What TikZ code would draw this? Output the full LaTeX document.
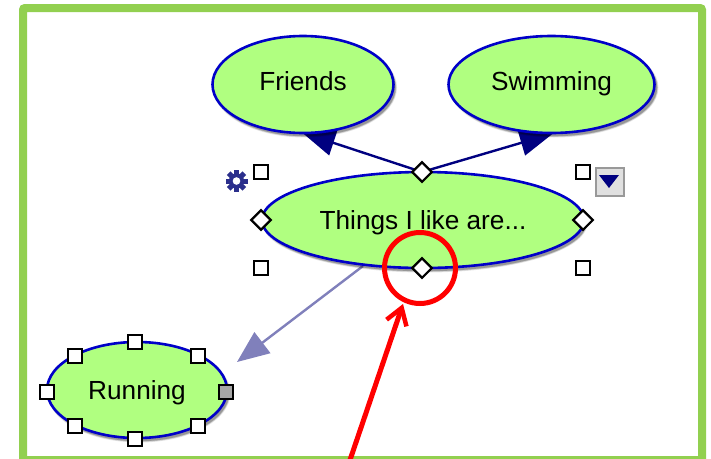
\documentclass[tikz,border=0pt]{standalone}
\usepackage{fontspec}
\setmainfont{Liberation Sans}
\usetikzlibrary{arrows.meta,shapes.geometric}
\definecolor{framegreen}{HTML}{92D050}
\definecolor{nodegreen}{HTML}{B0FF80}
\definecolor{nodeblue}{HTML}{0000C8}
\definecolor{linknavy}{HTML}{000080}
\definecolor{linkpale}{HTML}{8080BB}
\definecolor{gearblue}{HTML}{2B2F8C}
\tikzset{
  x=1pt,y=-1pt,
  concept/.style={ellipse,draw=nodeblue,fill=nodegreen,line width=2.6pt,inner sep=0pt,
    font=\fontsize{26.2}{26.2}\selectfont,text=black,text height=18pt,text depth=0pt},
  handle/.style={rectangle,draw=black,fill=white,line width=2.2pt,minimum size=13.5pt,inner sep=0pt},
  diamondhandle/.style={diamond,draw=black,fill=white,line width=2.2pt,minimum size=20.5pt,inner sep=0pt},
  darklink/.style={draw=linknavy,line width=2.4pt,-{Triangle[length=33pt,width=26pt,fill=linknavy]}},
  palelink/.style={draw=linkpale,line width=2.4pt,-{Triangle[length=32pt,width=26pt,fill=linkpale]}},
  redmark/.style={draw=red,line width=5pt},
}
\newcommand{\softshadow}[4]{%
  \foreach \g/\o in {1.5/0.10,0.8/0.15,0.2/0.22}{%
    \fill[black,opacity=\o] (#1+2.5,#2+3) ellipse [x radius=#3+\g,y radius=#4+\g];}%
}
\begin{document}
\begin{tikzpicture}
\useasboundingbox (0,0) rectangle (711,458);
\fill[white] (0,0) rectangle (711,458);
\draw[framegreen,line width=8pt,rounded corners=2pt] (23,8) rectangle (702,460);

% links go under the concept shapes
\coordinate (ftip) at (302,132.5);
\coordinate (stip) at (553,133.5);
\coordinate (rstart) at (363,266);
\coordinate (rtip) at (237,362);
\coordinate (tt) at (422,172);
\draw[darklink] (tt) -- (ftip);
\draw[darklink] (tt) -- (stip);
\draw[palelink] (rstart) -- (rtip);

\softshadow{302.5}{84.5}{90.5}{48.5}
\softshadow{551.5}{84.5}{103}{48.5}
\softshadow{422.5}{220}{161}{48}
\softshadow{136.5}{390}{90}{48}
\node[concept,text depth=7pt,minimum width=181pt,minimum height=97pt] (friends) at (303,84.5) {Friends};
\node[concept,text depth=7pt,minimum width=206pt,minimum height=97pt] (swimming) at (551.5,84.5) {Swimming};
\node[concept,text depth=0pt,minimum width=322pt,minimum height=96pt] (things) at (423,220) {Things I like are...};
\node[concept,minimum width=180pt,minimum height=96pt] (running) at (137,390) {Running};

% handles of the selected concept
\node[handle] (h1) at (261,172) {};
\node[handle] (h2) at (583,172) {};
\node[handle] (h3) at (261,268) {};
\node[handle] (h4) at (583,268) {};
\node[diamondhandle] (d1) at (tt) {};
\node[diamondhandle] (d2) at (422,268) {};
\node[diamondhandle] (d3) at (261,220) {};
\node[diamondhandle] (d4) at (583,220) {};

% handles of Running
\node[handle] (r1) at (75,356) {};
\node[handle] (r2) at (135,342) {};
\node[handle] (r3) at (198,356) {};
\node[handle] (r4) at (47,392) {};
\node[handle,fill=black!35] (r5) at (226,392) {};
\node[handle] (r6) at (75,426) {};
\node[handle] (r7) at (135,439) {};
\node[handle] (r8) at (198,426) {};

% gear
\foreach \a in {0,90,180,270}
  \fill[gearblue,rotate around={\a:(236.5,181)}] (234,170) rectangle (239,176);
\foreach \a in {45,135,225,315}
  \fill[gearblue,rotate around={\a:(236.5,181)}] (234,170) rectangle (239,176);
\fill[gearblue] (236.5,181) circle (7.6);
\fill[white] (236.5,181) circle (3.8);

% drop-down button
\fill[black!12] (595,167) rectangle (625,197);
\draw[black!40,line width=1.8pt] (595.9,167.9) rectangle (624.1,196.1);
\fill[linknavy] (599,175) -- (619,175) -- (609,188) -- cycle;

% red callout
\node[circle,redmark,fill=none,minimum size=71pt,inner sep=0pt] (ring) at (420,268) {};
\coordinate (rfoot) at (350,460);
\coordinate (rhead) at (403,304);
\draw[redmark,-{Straight Barb[length=16pt,width=21pt,line width=4.5pt]}] (rfoot) -- (rhead);
\end{tikzpicture}
\end{document}
